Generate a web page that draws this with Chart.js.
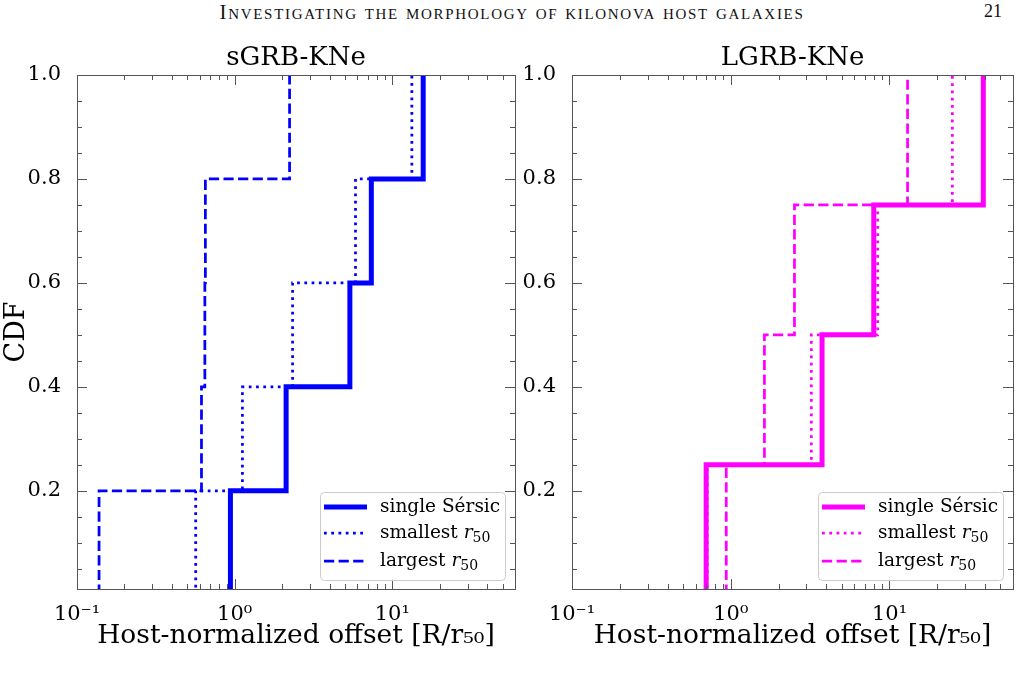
<!DOCTYPE html>
<html><head><meta charset="utf-8">
<script src="https://cdn.jsdelivr.net/npm/chart.js@4.4.1/dist/chart.umd.min.js"></script>
<style>
html,body{margin:0;padding:0;background:#fff;width:1024px;height:674px;overflow:hidden;}
#hdr{position:absolute;left:0;width:1024px;top:0px;text-align:center;font-family:'Liberation Serif';font-size:21px;letter-spacing:1.7px;font-variant:small-caps;color:#111;}
#pg{position:absolute;left:984px;top:1px;font-family:'Liberation Serif';font-size:18px;color:#111;}
.cw{position:absolute;top:0;}
</style></head><body>
<div id="hdr">Investigating the morphology of kilonova host galaxies</div>
<div id="pg">21</div>
<div class="cw" style="left:0"><canvas id="c1" width="520" height="674"></canvas></div>
<div class="cw" style="left:520px"><canvas id="c2" width="504" height="674"></canvas></div>
<script>
// ---- data ----
const sgrbCDF      = [0.2, 0.4, 0.6, 0.8, 1.0];
const sgrbSingle   = [0.94, 2.12, 5.38, 7.36, 15.7];
const sgrbSmallest = [0.566, 1.12, 2.33, 5.84, 13.3];
const sgrbLargest  = [0.138, 0.616, 0.647, 0.652, 2.23];

const lgrbCDF      = [0.25, 0.5, 0.75, 1.0];
const lgrbSingle   = [0.70, 3.76, 7.96, 39.0];
const lgrbSmallest = [0.71, 3.22, 8.43, 24.9];
const lgrbLargest  = [0.937, 1.63, 2.52, 13.0];

const seriesLabels = ['single Sérsic', 'smallest r50', 'largest r50'];
const xMajorTicks  = [0.1, 1, 10];
const xTickLabels  = ['10\u207B\u00B9', '10\u2070', '10\u00B9'];
const yMajorTicks  = [0.2, 0.4, 0.6, 0.8, 1.0];
const yTickLabels  = ['0.2', '0.4', '0.6', '0.8', '1.0'];

const FONT = "'DejaVu Serif'";

function stepData(xs, cdf) {
  const pts = [{x: xs[0], y: 0}];
  xs.forEach((v, i) => pts.push({x: v, y: cdf[i]}));
  return pts;
}
function isMajor(v, list) { return list.some(m => Math.abs(v - m) < 1e-6 * Math.max(1, m)); }
function labelFor(v, list, labels) {
  const i = list.findIndex(m => Math.abs(v - m) < 1e-6 * Math.max(1, m));
  return i >= 0 ? labels[i] : '';
}
function xMinorTicks(min, max) {
  const out = [];
  for (let d = -1; d <= 1; d++) for (let k = 1; k <= 9; k++) {
    const v = k * Math.pow(10, d);
    if (v >= min - 1e-9 && v <= max + 1e-9) out.push(+v.toPrecision(6));
  }
  return out;
}
function yMinor() { const o = []; for (let k = 1; k <= 20; k++) o.push(+(k * 0.05).toFixed(2)); return o; }

const framePlugin = {
  id: 'frameAndLegend',
  afterDatasetsDraw(chart) {
    const {ctx, chartArea: a, scales: {x, y}} = chart;
    ctx.save();
    ctx.strokeStyle = '#555';
    ctx.lineWidth = 1;
    ctx.beginPath();
    x.ticks.forEach(t => {
      const px = Math.round(x.getPixelForValue(t.value)) + 0.5;
      if (px < a.left - 1 || px > a.right + 1) return;
      const len = isMajor(t.value, xMajorTicks) ? 10 : 5;
      ctx.moveTo(px, a.bottom); ctx.lineTo(px, a.bottom - len);
      ctx.moveTo(px, a.top); ctx.lineTo(px, a.top + len);
    });
    y.ticks.forEach(t => {
      const py = Math.round(y.getPixelForValue(t.value)) + 0.5;
      if (py < a.top - 1 || py > a.bottom + 1) return;
      const len = isMajor(t.value, yMajorTicks) ? 10 : 5;
      ctx.moveTo(a.left, py); ctx.lineTo(a.left + len, py);
      ctx.moveTo(a.right, py); ctx.lineTo(a.right - len, py);
    });
    ctx.stroke();
    ctx.strokeRect(Math.round(a.left) + 0.5, Math.round(a.top) + 0.5, Math.round(a.right - a.left), Math.round(a.bottom - a.top));

    // legend
    const lw = 185, lh = 88;
    const bx = a.right - 10 - lw, by = a.bottom - 9 - lh;
    ctx.beginPath();
    ctx.roundRect(bx + 0.5, by + 0.5, lw, lh, 4);
    ctx.fillStyle = 'rgba(255,255,255,0.8)';
    ctx.fill();
    ctx.strokeStyle = '#cccccc';
    ctx.stroke();
    const rows = [15, 41, 69];
    chart.data.datasets.forEach((ds, i) => {
      const ry = by + rows[i];
      ctx.beginPath();
      ctx.strokeStyle = ds.borderColor;
      ctx.lineWidth = ds.borderWidth;
      ctx.lineCap = 'butt';
      ctx.setLineDash(ds.borderDash || []);
      ctx.moveTo(bx + 4, ry); ctx.lineTo(bx + 47, ry);
      ctx.stroke();
      ctx.setLineDash([]);
      ctx.fillStyle = '#000';
      ctx.textBaseline = 'middle';
      ctx.textAlign = 'left';
      let tx = bx + 60;
      const lab = ds.label;
      if (lab.endsWith(' r50')) {
        const head = lab.slice(0, -3);
        ctx.font = '18.5px ' + FONT;
        ctx.fillText(head, tx, ry); tx += ctx.measureText(head).width;
        ctx.font = 'italic 18.5px ' + FONT;
        ctx.fillText('r', tx, ry); tx += ctx.measureText('r').width;
        ctx.font = '14px ' + FONT;
        ctx.fillText('50', tx, ry + 5);
      } else {
        ctx.font = '18.5px ' + FONT;
        ctx.fillText(lab, tx, ry);
      }
    });
    ctx.restore();
  }
};

function makeChart(id, title, color, single, smallest, largest, cdf, yAxisWidth, padRight, showYTitle) {
  const datasets = [
    {label: seriesLabels[0], data: stepData(single, cdf), borderWidth: 5, borderDash: []},
    {label: seriesLabels[1], data: stepData(smallest, cdf), borderWidth: 2.75, borderDash: [2.75, 4.5]},
    {label: seriesLabels[2], data: stepData(largest, cdf), borderWidth: 2.75, borderDash: [10.2, 4.4]}
  ].map(d => Object.assign(d, {
    borderColor: color, backgroundColor: color, stepped: 'before', pointRadius: 0,
    fill: false, clip: 0, borderCapStyle: 'butt', borderJoinStyle: 'miter', tension: 0
  }));
  return new Chart(document.getElementById(id), {
    type: 'line',
    data: {datasets},
    options: {
      responsive: false, animation: false, events: [],
      layout: {padding: {left: 0, right: padRight, top: 0, bottom: 0}},
      plugins: {
        legend: {display: false},
        tooltip: {enabled: false},
        title: {display: true, text: title, fullSize: false, color: '#000',
          font: {family: FONT, size: 26, weight: 'normal', lineHeight: 1.2},
          padding: {top: 42.8, bottom: 1}},
        frameAndLegend: {color}
      },
      scales: {
        x: {
          type: 'logarithmic', min: 0.1, max: 60,
          grid: {display: false}, border: {display: false},
          afterBuildTicks: s => { s.ticks = xMinorTicks(0.1, 60).map(v => ({value: v})); },
          afterFit: s => { s.height = 85; },
          ticks: {autoSkip: false, maxRotation: 0, padding: 5, color: '#000',
            font: {family: FONT, size: 21},
            callback: v => labelFor(v, xMajorTicks, xTickLabels)},
          title: {display: true, text: 'Host-normalized offset [R/r\u2085\u2080]', color: '#000',
            font: {family: FONT, size: 26.5, weight: 'normal', lineHeight: 1.2},
            padding: {top: 0, bottom: 22}}
        },
        y: {
          type: 'linear', min: 0.011, max: 1.0,
          grid: {display: false}, border: {display: false},
          afterBuildTicks: s => { s.ticks = yMinor().map(v => ({value: v})); },
          afterFit: s => { s.width = yAxisWidth; },
          ticks: {autoSkip: false, padding: 8, color: '#000',
            font: {family: FONT, size: 21},
            callback: v => labelFor(v, yMajorTicks, yTickLabels)},
          title: {display: showYTitle, text: 'CDF', color: '#000',
            font: {family: FONT, size: 27, weight: 'normal', lineHeight: 1.2},
            padding: {top: 1, bottom: 0}}
        }
      }
    },
    plugins: [framePlugin]
  });
}

makeChart('c1', 'sGRB-KNe', '#0000ff', sgrbSingle, sgrbSmallest, sgrbLargest, sgrbCDF, 77, 2, true);
makeChart('c2', 'LGRB-KNe', '#ff00ff', lgrbSingle, lgrbSmallest, lgrbLargest, lgrbCDF, 52, 11, false);
</script>
</body></html>
